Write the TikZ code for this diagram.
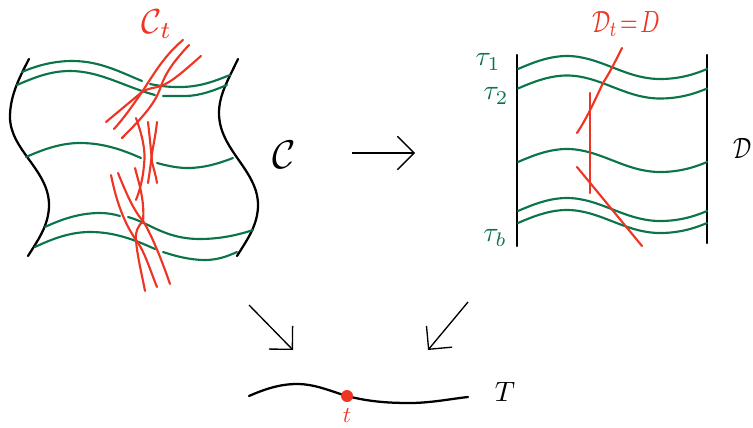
\documentclass[tikz,border=0pt]{standalone}
\usepackage{graphicx}
\usetikzlibrary{arrows.meta}
\definecolor{gr}{HTML}{0B7549}
\definecolor{rd}{HTML}{EE3524}
\tikzset{
  px/.style={x=0.75pt,y=-0.75pt},
  greenline/.style={draw=gr,line width=1.6pt,line cap=round},
  redline/.style={draw=rd,line width=1.6pt,line cap=round},
  blackline/.style={draw=black,line width=1.7pt,line cap=round},
  mapto/.style={draw=black,line width=1pt,-{Straight Barb[length=12.5pt,width=25pt,line width=1pt]}},
  lab/.style={inner sep=0pt,outer sep=0pt}
}
\newcommand{\wavecurve}[1]{\draw[greenline,shift={(0,#1)}] (518,69) .. controls (534,62) and (550,56) .. (567,56) .. controls (600,56) and (625,79) .. (660,79) .. controls (678,79) and (693,75) .. (707,69);}
\begin{document}
\begin{tikzpicture}[px]
\useasboundingbox (0,0) rectangle (753,428);
% left sheet
\draw[blackline] (29,59) .. controls (18,80) and (10,97) .. (10,117) .. controls (10,150) and (49,170) .. (49,205) .. controls (49,225) and (38,240) .. (28,256);
\draw[blackline] (238,59) .. controls (228,80) and (219,95) .. (219,113) .. controls (219,150) and (258,170) .. (258,205) .. controls (258,225) and (247,240) .. (237,256);
\draw[greenline] (22,72) .. controls (38,65) and (55,61) .. (72,61) .. controls (100,61) and (120,72) .. (142,81);
\draw[greenline] (150,84) .. controls (165,87) and (172,87) .. (180,87) .. controls (200,87) and (215,81) .. (230,75);
\draw[greenline] (17,85) .. controls (33,78) and (50,71) .. (70,71) .. controls (100,71) and (125,87) .. (155,95);
\draw[greenline] (163,96) .. controls (170,96) and (175,96) .. (185,96) .. controls (200,96) and (215,90) .. (227,85);
\draw[greenline] (26,157) .. controls (42,150) and (60,143) .. (80,143) .. controls (105,143) and (125,151) .. (141,158);
\draw[greenline] (157,163) .. controls (168,166) and (178,168) .. (187,168) .. controls (205,168) and (220,163) .. (233,158);
\draw[greenline] (45,227) .. controls (62,219) and (80,213) .. (100,213) .. controls (107,213) and (113,214) .. (120,216);
\draw[greenline] (128,217) .. controls (150,223) and (165,239) .. (200,239) .. controls (220,239) and (238,235) .. (253,230);
\draw[greenline] (35,247) .. controls (52,239) and (70,232) .. (90,232) .. controls (115,232) and (135,240) .. (155,249);
\draw[greenline] (163,252) .. controls (175,256) and (190,260) .. (205,260) .. controls (218,260) and (228,256) .. (237,252);
% red strands, left
\draw[redline] (183,40) .. controls (165,55) and (155,72) .. (142,92) .. controls (133,105) and (124,118) .. (114,129);
\draw[redline] (189,45) .. controls (175,60) and (166,72) .. (161,86) .. controls (156,102) and (145,115) .. (122,138);
\draw[redline] (201,56) .. controls (185,70) and (172,82) .. (161,86) .. controls (155,88) and (148,88) .. (142,92) .. controls (130,102) and (118,112) .. (106,122);
\draw[redline] (136,118) .. controls (142,135) and (146,150) .. (144,165) .. controls (143,178) and (140,190) .. (136,200);
\draw[redline] (157,122) .. controls (155,140) and (152,150) .. (151,162) .. controls (150,170) and (149,176) .. (148,183);
\draw[redline] (148,122) .. controls (150,140) and (151,150) .. (152,162) .. controls (154,170) and (156,176) .. (157,183);
\draw[redline] (135,168) .. controls (138,180) and (145,200) .. (143,221) .. controls (150,232) and (160,255) .. (170,284);
\draw[redline] (118,173) .. controls (125,190) and (133,210) .. (143,221) .. controls (138,226) and (135,232) .. (136,240) .. controls (137,255) and (142,275) .. (145,291);
\draw[redline] (111,175) .. controls (115,195) and (122,220) .. (136,240) .. controls (145,252) and (150,270) .. (157,287);
% right sheet
\coordinate (rtl) at (517,55); \coordinate (rbl) at (517,246);
\coordinate (rtr) at (707,55); \coordinate (rbr) at (707,243);
\draw[blackline] (rtl) -- (rbl);
\draw[blackline] (rtr) -- (rbr);
\wavecurve{0}
\wavecurve{19.5}
\wavecurve{93}
\wavecurve{142}
\wavecurve{154}
\draw[redline] (622,48) .. controls (615,62) and (610,72) .. (603,83) .. controls (595,100) and (587,118) .. (577,133);
\coordinate (vt) at (590,93); \coordinate (vb) at (590,193);
\draw[redline] (vt) -- (vb);
\coordinate (dgs) at (577,167); \coordinate (dge) at (642,246);
\draw[redline] (dgs) -- (dge);
% arrows
\coordinate (a1s) at (352,153); \coordinate (a1e) at (415,153);
\coordinate (a2s) at (249,305); \coordinate (a2e) at (293,350);
\coordinate (a3s) at (468,302); \coordinate (a3e) at (428,350);
\draw[mapto] (a1s) -- (a1e);
\draw[mapto] (a2s) -- (a2e);
\draw[mapto] (a3s) -- (a3e);
% base
\draw[blackline] (249,396) .. controls (265,389) and (280,384) .. (297,384) .. controls (315,384) and (330,391) .. (347,396) .. controls (370,402) and (390,403) .. (410,403) .. controls (430,403) and (450,399) .. (468,397);
\node[circle,fill=rd,minimum size=9pt,inner sep=0pt] (dot) at (347,396) {};
% labels
\node[lab,text=rd] (ct) at (157,24) {\scalebox{2.6}{$\mathcal{C}_t$}};
\node[lab] (cc) at (284,155) {\scalebox{3.0}{$\mathcal{C}$}};
\node[lab,text=rd] (dt) at (626,24) {\scalebox{1.7}[2.3]{$\mathcal{D}_t\!=\!D$}};
\node[lab] (dd) at (743,148) {\scalebox{1.7}[2.2]{$\mathcal{D}$}};
\node[lab,text=gr] (t1) at (488,62) {\scalebox{2.1}{$\tau_1$}};
\node[lab,text=gr] (t2) at (496,96) {\scalebox{2.1}{$\tau_2$}};
\node[lab,text=gr] (tb) at (495,238) {\scalebox{2.1}{$\tau_b$}};
\node[lab] (tt) at (505,392) {\scalebox{2.1}{$T$}};
\node[lab,text=rd] (ts) at (347,416) {\scalebox{1.7}{$t$}};
\end{tikzpicture}
\end{document}
